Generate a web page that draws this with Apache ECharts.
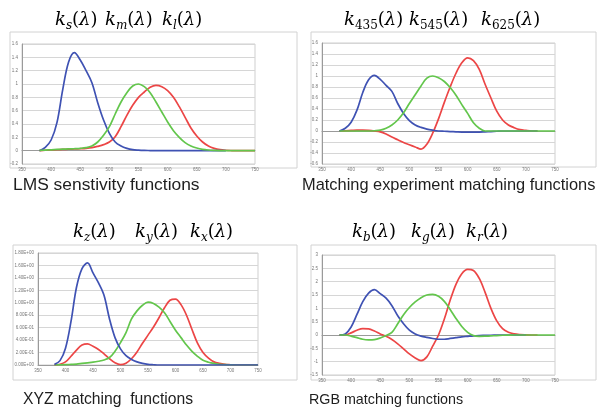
<!DOCTYPE html>
<html><head><meta charset="utf-8">
<script src="https://cdn.jsdelivr.net/npm/echarts@6/dist/echarts.min.js"></script>
<style>html,body{margin:0;padding:0;background:#fff}#c{width:599px;height:414px}</style>
</head><body><div id="c"></div>
<script>
// wavelengths (nm) shared by every curve
const wavelengths = [380,390,400,410,420,430,440,450,460,470,480,490,500,510,520,530,540,550,560,570,580,590,600,610,620,630,640,650,660,670,680,690,700,710,720,730,740,750];

// LMS sensitivity functions
const lmsS = [0,0.05,0.16,0.42,0.92,1.33,1.47,1.36,1.2,1.02,0.72,0.46,0.26,0.13,0.07,0.035,0.015,0.008,0.004,0.002,0,0,0,0,0,0,0,0,0,0,0,0,0,null,null,null,null,null];
const lmsM = [0.003,0.008,0.013,0.018,0.022,0.026,0.03,0.035,0.045,0.07,0.13,0.23,0.36,0.55,0.73,0.87,0.97,1.0,0.96,0.87,0.73,0.58,0.43,0.3,0.2,0.12,0.07,0.04,0.02,0.01,0.005,0.002,0,0,0,0,0,0];
const lmsL = [0.002,0.006,0.01,0.014,0.018,0.022,0.026,0.03,0.035,0.045,0.065,0.09,0.13,0.21,0.36,0.53,0.68,0.8,0.88,0.95,0.98,0.96,0.9,0.8,0.66,0.5,0.34,0.22,0.13,0.07,0.035,0.015,0.006,0.002,0,0,0,0];

// matching experiment functions
const k435 = [0,0.05,0.16,0.38,0.7,0.93,1.01,0.94,0.83,0.72,0.5,0.32,0.19,0.11,0.065,0.035,0.015,0,-0.005,-0.01,-0.015,-0.02,-0.02,-0.02,-0.02,-0.015,-0.01,-0.005,0,0,0,0,0,0,0,null,null,null];
const k545 = [0,0,0,0,0,0,0.005,0.015,0.05,0.11,0.2,0.33,0.5,0.66,0.82,0.96,1.0,0.97,0.9,0.79,0.65,0.48,0.32,0.15,0.05,0,0,0,0,0,0,0,0,0,0,0,0,0];
const k625 = [0,0.005,0.01,0.015,0.015,0.01,0,-0.015,-0.055,-0.11,-0.16,-0.21,-0.25,-0.29,-0.33,-0.24,-0.04,0.22,0.52,0.8,1.05,1.24,1.33,1.28,1.12,0.85,0.6,0.36,0.2,0.11,0.06,0.025,0.01,0,0,null,null,null];

// XYZ matching functions
const xyzZ = [0.01,0.07,0.27,0.7,1.25,1.55,1.64,1.48,1.32,1.12,0.74,0.44,0.26,0.15,0.09,0.05,0.025,0.01,0.004,0,0,0,0,0,0,0,0,0,0,0,0,0,0,0,0,0,0,0];
const xyzY = [0,0.002,0.005,0.01,0.015,0.025,0.035,0.045,0.06,0.08,0.12,0.22,0.36,0.52,0.74,0.87,0.96,1.01,0.99,0.93,0.84,0.7,0.56,0.44,0.32,0.22,0.14,0.075,0.045,0.025,0.012,0.005,0.002,0,0,0,0,0];
const xyzX = [0.002,0.012,0.05,0.14,0.24,0.32,0.34,0.3,0.25,0.18,0.1,0.035,0.005,0.03,0.1,0.21,0.35,0.48,0.61,0.76,0.92,1.04,1.06,0.97,0.8,0.57,0.35,0.2,0.11,0.05,0.025,0.01,0.004,0,0,0,0,0];

// RGB matching functions
const rgbB = [0,0.04,0.3,0.77,1.25,1.57,1.7,1.55,1.38,1.1,0.72,0.42,0.18,0.04,-0.04,-0.09,-0.13,-0.16,-0.16,-0.13,-0.1,-0.07,-0.05,-0.03,-0.02,-0.015,-0.01,-0.005,0,0,0,0,0,null,null,null,null,null];
const rgbG = [0,0,-0.04,-0.1,-0.16,-0.18,-0.17,-0.11,-0.02,0.1,0.42,0.76,1.03,1.24,1.4,1.5,1.52,1.45,1.26,0.96,0.62,0.32,0.1,-0.02,-0.05,-0.045,-0.035,-0.02,-0.01,-0.005,0,0,0,0,0,0,0,0];
const rgbR = [0,0.005,0.08,0.18,0.24,0.23,0.15,0.04,-0.05,-0.17,-0.33,-0.52,-0.71,-0.86,-0.96,-0.82,-0.42,0,0.6,1.3,1.9,2.3,2.46,2.42,2.12,1.6,1.0,0.53,0.24,0.1,0.04,0.015,0.005,0,0,null,null,null];

// axis ranges [min, max, interval]
const xRange = [350, 750, 50];
const lmsYRange = [-0.2, 1.6, 0.2];
const matchYRange = [-0.6, 1.6, 0.2];
const xyzYRange = [0, 1.8, 0.2];
const rgbYRange = [-1.5, 3, 0.5];

// titles / captions
const titleTerms = [
  ['s','m','l'],
  ['435','545','625'],
  ['z','y','x'],
  ['b','g','r']
];
const captions = ['LMS senstivity functions','Matching experiment matching functions','XYZ matching  functions','RGB matching functions'];

const BLUE = '#3f52b3', GREEN = '#63c64c', RED = '#ec4646';

function pairs(arr){ return wavelengths.map((w,i)=>[w, arr[i]]); }
function sci(v){
  if (Math.abs(v) < 1e-12) return '0.00E+00';
  const e = Math.floor(Math.log10(Math.abs(v)) + 1e-9);
  const m = v / Math.pow(10, e);
  return m.toFixed(2) + 'E' + (e < 0 ? '-' : '+') + String(Math.abs(e)).padStart(2, '0');
}

const grids = [
  {left:22, top:44, width:233, height:120},
  {left:322, top:43, width:233, height:121},
  {left:38, top:253, width:220, height:112},
  {left:322, top:255, width:233, height:120}
];
const yRanges = [lmsYRange, matchYRange, xyzYRange, rgbYRange];

const lbl = {fontSize:4.5, color:'#777', fontFamily:'Liberation Sans'};
const xAxes = grids.map((g,i)=>({
  type:'value', gridIndex:i, min:xRange[0], max:xRange[1], interval:xRange[2],
  axisLine:{onZero:true, lineStyle:{color:'#9a9a9a', width:1}},
  axisTick:{show:false}, splitLine:{show:false},
  axisLabel:Object.assign({margin:3}, lbl)
}));
const yAxes = grids.map((g,i)=>({
  type:'value', gridIndex:i, min:yRanges[i][0], max:yRanges[i][1], interval:yRanges[i][2],
  axisLine:{show:true, lineStyle:{color:'#9a9a9a', width:1}},
  axisTick:{show:false},
  splitLine:{show:true, lineStyle:{color:'#d6d6d6', width:1}},
  axisLabel:Object.assign({margin:4, formatter: i===2 ? sci : null}, lbl)
}));

function line(idx, arr, color){
  return {type:'line', xAxisIndex:idx, yAxisIndex:idx, data:pairs(arr), smooth:0.35,
    showSymbol:false, connectNulls:false, lineStyle:{color:color, width:1.7}, itemStyle:{color:color}, silent:true, animation:false};
}
const series = [
  line(0, lmsL, RED), line(0, lmsS, BLUE), line(0, lmsM, GREEN),
  line(1, k625, RED), line(1, k435, BLUE), line(1, k545, GREEN),
  line(2, xyzX, RED), line(2, xyzY, GREEN), line(2, xyzZ, BLUE),
  line(3, rgbR, RED), line(3, rgbB, BLUE), line(3, rgbG, GREEN)
];

// decorative graphics: chart-area boxes, math titles, captions
const boxes = [
  {x:10, y:32, w:287, h:136},
  {x:311, y:32, w:285, h:135},
  {x:13, y:245, w:284, h:135},
  {x:311, y:245, w:285, h:135}
];
const termX = [[55,105,162],[344,409,481],[73,135,190],[352,411,466]];
const termY = [20,20,232,232];
const capPos = [[13,185],[302,185],[23,400],[309,400]];
const capSize = [17.4,16.4,15.7,14.3];

const rich = {
  k:{fontFamily:'DejaVu Serif', fontStyle:'italic', fontSize:18, lineHeight:24, verticalAlign:'middle', color:'#222'},
  s:{fontFamily:'DejaVu Serif', fontStyle:'italic', fontSize:12, lineHeight:12, verticalAlign:'bottom', color:'#222'},
  n:{fontFamily:'DejaVu Serif', fontSize:12, lineHeight:12, verticalAlign:'bottom', color:'#222'},
  p:{fontFamily:'DejaVu Serif', fontSize:18, lineHeight:24, verticalAlign:'middle', color:'#222'},
  l:{fontFamily:'DejaVu Serif', fontStyle:'italic', fontSize:18, lineHeight:24, verticalAlign:'middle', color:'#222'}
};
const graphics = [];
boxes.forEach(b=>graphics.push({type:'rect', shape:{x:b.x, y:b.y, width:b.w, height:b.h}, style:{fill:null, stroke:'#d2d2d2', lineWidth:1}, silent:true}));
titleTerms.forEach((terms,p)=>{
  terms.forEach((t,j)=>{
    const subStyle = /^[0-9]+$/.test(t) ? 'n' : 's';
    graphics.push({type:'text', x:termX[p][j], y:termY[p], silent:true,
      style:{text:'{k|k}{'+subStyle+'|'+t+'}{p|(}{l|λ}{p|)}', rich:rich, verticalAlign:'middle', align:'left'}});
  });
});
captions.forEach((c,i)=>{
  graphics.push({type:'text', x:capPos[i][0], y:capPos[i][1], silent:true,
    style:{text:c, fontFamily:'Liberation Sans', fontSize:capSize[i], fill:'#1e1e1e', verticalAlign:'middle', align:'left'}});
});

const chart = echarts.init(document.getElementById('c'), null, {renderer:'canvas'});
chart.setOption({
  backgroundColor:'#ffffff',
  animation:false,
  grid: grids.map(g=>Object.assign({show:true, borderColor:'#cfcfcf', borderWidth:1, backgroundColor:'transparent'}, g)),
  xAxis: xAxes,
  yAxis: yAxes,
  series: series,
  graphic: graphics
});
</script>
</body></html>
